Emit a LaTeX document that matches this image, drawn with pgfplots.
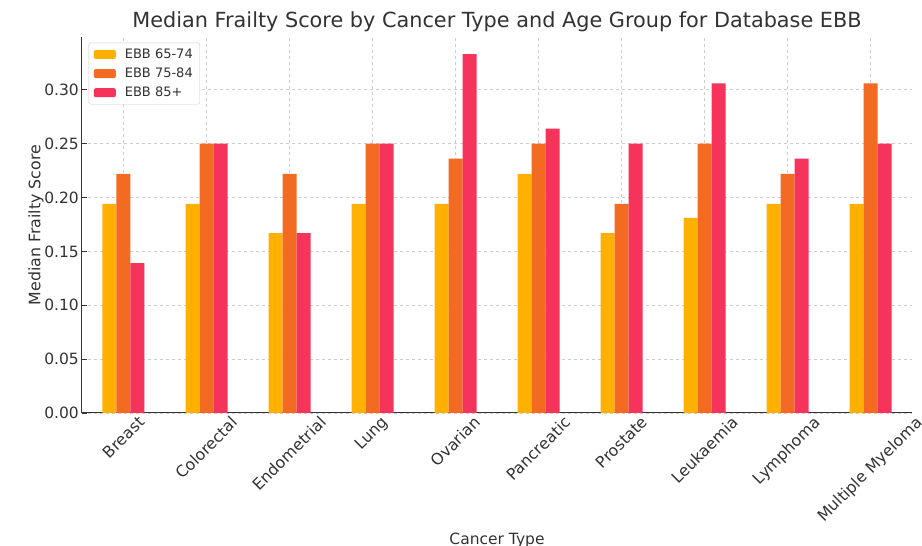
\documentclass[border=0pt]{standalone}
\usepackage{fontspec}
\setmainfont{DejaVu Sans}
\usepackage{graphicx}
\usepackage{pgfplots}
\pgfplotsset{compat=1.18}
\definecolor{cA}{RGB}{255,176,0}
\definecolor{cB}{RGB}{243,106,34}
\definecolor{cC}{RGB}{246,51,90}
\definecolor{txt}{RGB}{50,50,50}
\begin{document}
\begin{tikzpicture}
\useasboundingbox (-82pt,-133pt) rectangle (840pt,413pt);
\begin{axis}[
  at={(0pt,0pt)}, anchor=south west,
  scale only axis, width=830pt, height=376pt,
  ybar=0pt, bar width=14pt,
  xmin=-0.5, xmax=9.5, ymin=0, ymax=0.349,
  xtick={0,...,9},
  xticklabels={\rotatebox{45}{Breast},\rotatebox{45}{Colorectal},\rotatebox{45}{Endometrial},\rotatebox{45}{Lung},\rotatebox{45}{Ovarian},\rotatebox{45}{Pancreatic},\rotatebox{45}{Prostate},\rotatebox{45}{Leukaemia},\rotatebox{45}{Lymphoma},\rotatebox{45}{Multiple Myeloma}},
  xticklabel style={anchor=north, font=\fontsize{15.8}{18}\selectfont, text=txt, inner sep=2pt},
  ytick={0,0.05,...,0.30},
  yticklabel style={/pgf/number format/.cd, fixed, fixed zerofill, precision=2, /tikz/.cd, font=\fontsize{15.5}{18}\selectfont, text=txt, inner sep=3pt},
  /pgf/number format/assume math mode=true,
  axis x line*=bottom, axis y line*=left,
  axis line style={line width=1pt, color=black!80},
  tick align=inside, major tick length=5pt,
  tick style={color=black!80, line width=0.8pt},
  grid=major,
  major grid style={dashed, color=black!20, line width=0.6pt},
  xlabel={Cancer Type}, ylabel={Median Frailty Score},
  xlabel style={font=\fontsize{15.5}{18}\selectfont, text=txt, at={(0.5,0)}, anchor=north, yshift=-116pt},
  ylabel style={font=\fontsize{15.8}{18}\selectfont, text=txt, yshift=-6pt},
  title={Median Frailty Score by Cancer Type and Age Group for Database EBB},
  title style={font=\fontsize{20.8}{24}\selectfont, text=txt, yshift=-4pt},
  legend style={font=\fontsize{13}{15}\selectfont, text=txt, draw=black!20, rounded corners=2pt, at={(0.008,0.985)}, anchor=north west, row sep=4pt, inner xsep=5pt, inner ysep=4pt,
    /tikz/every odd column/.append style={column sep=7pt}},
  legend image code/.code={\fill[#1] (0pt,-4.5pt) rectangle (22pt,4.5pt);},
  legend cell align=left,
]
\addplot[fill=cA, draw=none] coordinates {(0,0.194) (1,0.194) (2,0.167) (3,0.194) (4,0.194) (5,0.222) (6,0.167) (7,0.181) (8,0.194) (9,0.194)};
\addplot[fill=cB, draw=none] coordinates {(0,0.222) (1,0.250) (2,0.222) (3,0.250) (4,0.236) (5,0.250) (6,0.194) (7,0.250) (8,0.222) (9,0.306)};
\addplot[fill=cC, draw=none] coordinates {(0,0.139) (1,0.250) (2,0.167) (3,0.250) (4,0.333) (5,0.264) (6,0.250) (7,0.306) (8,0.236) (9,0.250)};
\legend{EBB 65-74, EBB 75-84, EBB 85+}
\end{axis}
\end{tikzpicture}
\end{document}
